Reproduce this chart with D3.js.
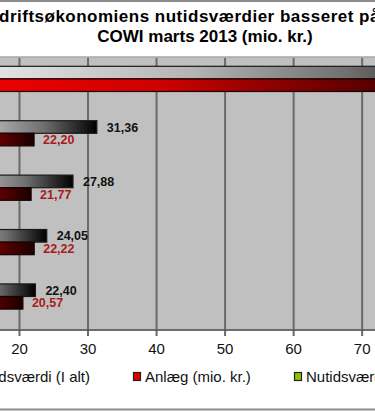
<!DOCTYPE html>
<html>
<head>
<meta charset="utf-8">
<script src="https://cdn.jsdelivr.net/npm/d3@7"></script>
<style>
  body { margin: 0; background: #fff; }
  svg { display: block; font-family: "Liberation Sans", Arial, sans-serif; }
</style>
</head>
<body>
<svg id="frame"></svg>
<script>
const width = 375;
const height = 412;

// data (category names are off the left edge in the reference)
const categories = ['I alt', 'Alternativ 1', 'Alternativ 2', 'Alternativ 3', 'Alternativ 4'];
const series = ['Nutidsværdi (I alt)', 'Anlæg (mio. kr.)', 'Nutidsværdi (drift)'];
const totalValues = [90.5, 31.36, 27.88, 24.05, 22.40];
const anlaegValues = [89.0, 22.20, 21.77, 22.22, 20.57];
const ticks = [20, 30, 40, 50, 60, 70];

const plot = {top: 58, bottom: 330};

const svg = d3.select('#frame')
  .attr('width', width)
  .attr('height', height);

// gradients
const defs = svg.append('defs');
function grad(id, stops) {
  const g = defs.append('linearGradient').attr('id', id)
    .attr('x1', 0).attr('x2', 1).attr('y1', 0).attr('y2', 0);
  stops.forEach(s => g.append('stop').attr('offset', s[0]).attr('stop-color', s[1]));
}
grad('gGray', [[0, '#ffffff'], [0.5, '#b4b4b4'], [0.75, '#707070'], [1, '#000000']]);
grad('gRed', [[0, '#ff0000'], [0.45, '#d00000'], [0.75, '#680000'], [1, '#1a0000']]);

// outer frame lines
svg.append('line').attr('x1', 0).attr('x2', width).attr('y1', 1).attr('y2', 1)
  .attr('stroke', '#8c8c8c').attr('stroke-width', 2);
svg.append('line').attr('x1', 0).attr('x2', width).attr('y1', 409.5).attr('y2', 409.5)
  .attr('stroke', '#8c8c8c').attr('stroke-width', 2);

// title
const title = svg.append('text')
  .attr('font-weight', 'bold').attr('font-size', 17).attr('fill', '#000');
title.append('tspan').attr('x', -1).attr('y', 22).attr('letter-spacing', 0.5)
  .text('driftsøkonomiens nutidsværdier basseret på');
title.append('tspan').attr('x', 205).attr('y', 42).attr('text-anchor', 'middle')
  .text('COWI marts 2013 (mio. kr.)');

// scales
const xScale = d3.scaleLinear().domain([0, 80]).range([-118.1, 430.2]);
const yScale = d3.scaleBand().domain(categories).range([plot.top, plot.bottom]);
const ySub = d3.scaleBand().domain(series).range([0, yScale.bandwidth()]).paddingOuter(0.66);

// plot background
svg.append('rect')
  .attr('x', -2).attr('y', plot.top - 1)
  .attr('width', width + 4).attr('height', plot.bottom - plot.top + 1)
  .attr('fill', '#c0c0c0').attr('stroke', '#a8a8a8').attr('stroke-width', 1.5);

// grid + axis
const xaxis = d3.axisBottom(xScale).tickValues(ticks)
  .tickSize(-(plot.bottom - plot.top)).tickFormat(d3.format('d')).tickPadding(13);
const ax = svg.append('g').attr('transform', `translate(0,${plot.bottom})`).call(xaxis);
ax.select('.domain').remove();
ax.selectAll('.tick line').attr('stroke', '#6a6a6a').attr('stroke-width', 2).attr('y2', -(plot.bottom - plot.top)).attr('y1', 6);
ax.selectAll('.tick text').attr('font-size', 15).attr('fill', '#111')
  .attr('font-family', '"Liberation Sans", Arial, sans-serif');
svg.append('line').attr('x1', 0).attr('x2', width).attr('y1', plot.bottom).attr('y2', plot.bottom)
  .attr('stroke', '#555').attr('stroke-width', 1.5);

// bars
const rows = categories.map((c, i) => ({c, total: totalValues[i], anlaeg: anlaegValues[i]}));
const g = svg.append('g');
const bh = ySub.bandwidth();

g.selectAll('.bTotal').data(rows).enter().append('rect')
  .attr('class', 'bTotal')
  .attr('x', xScale(0))
  .attr('y', d => yScale(d.c) + ySub(series[0]))
  .attr('width', d => xScale(d.total) - xScale(0))
  .attr('height', bh)
  .attr('fill', 'url(#gGray)').attr('stroke', '#1a1a1a').attr('stroke-width', 1.2);

g.selectAll('.bAnlaeg').data(rows).enter().append('rect')
  .attr('class', 'bAnlaeg')
  .attr('x', xScale(0))
  .attr('y', d => yScale(d.c) + ySub(series[1]))
  .attr('width', d => xScale(d.anlaeg) - xScale(0))
  .attr('height', bh)
  .attr('fill', 'url(#gRed)').attr('stroke', '#1a0000').attr('stroke-width', 1.2);

const fmt = v => d3.format('.2f')(v).replace('.', ',');

// value labels (only the ones that fall inside the picture)
g.selectAll('.lTotal').data(rows.filter(d => xScale(d.total) + 40 < width)).enter().append('text')
  .attr('class', 'lTotal')
  .attr('x', d => xScale(d.total) + 10)
  .attr('y', d => yScale(d.c) + ySub(series[0]) + bh / 2)
  .attr('dy', '0.36em')
  .attr('font-size', 12.5).attr('font-weight', 'bold').attr('fill', '#111')
  .text(d => fmt(d.total));

g.selectAll('.lAnlaeg').data(rows.filter(d => xScale(d.anlaeg) + 40 < width)).enter().append('text')
  .attr('class', 'lAnlaeg')
  .attr('x', d => xScale(d.anlaeg) + 9)
  .attr('y', d => yScale(d.c) + ySub(series[1]) + bh / 2)
  .attr('dy', '0.36em')
  .attr('font-size', 12.5).attr('font-weight', 'bold').attr('fill', '#a81c1c')
  .text(d => fmt(d.anlaeg));

// legend
const legend = svg.append('g').attr('font-size', 15).attr('fill', '#111');
legend.append('text').attr('x', 90).attr('y', 382).attr('text-anchor', 'end').text(series[0]);
legend.append('rect').attr('x', 133.5).attr('y', 372.5).attr('width', 7).attr('height', 8)
  .attr('fill', '#e00000').attr('stroke', '#222').attr('stroke-width', 1.2);
legend.append('text').attr('x', 145).attr('y', 382).text(series[1]);
legend.append('rect').attr('x', 294.5).attr('y', 372.5).attr('width', 7).attr('height', 8)
  .attr('fill', '#8fc400').attr('stroke', '#222').attr('stroke-width', 1.2);
legend.append('text').attr('x', 306).attr('y', 382).text(series[2]);
</script>
</body>
</html>
